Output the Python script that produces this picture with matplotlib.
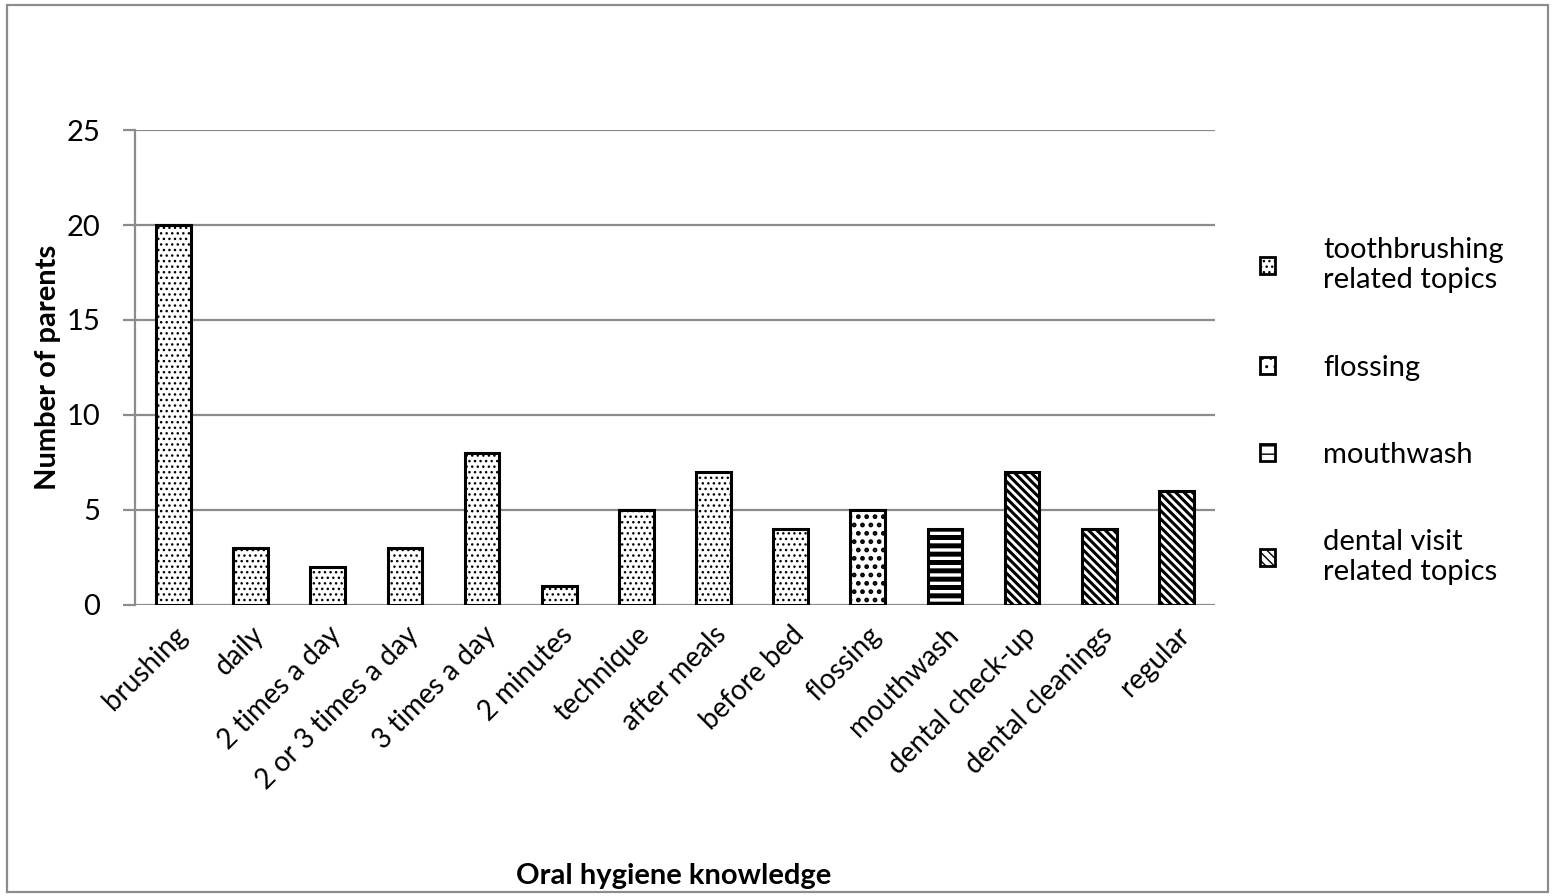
import numpy as np
import matplotlib
matplotlib.use("Agg")
import matplotlib.pyplot as plt
from matplotlib.patches import Rectangle, Patch

plt.rcParams["font.family"] = ["Lato", "DejaVu Sans"]

# Oral hygiene topics mentioned by parents
topics = ["brushing", "daily", "2 times a day", "2 or 3 times a day",
          "3 times a day", "2 minutes", "technique", "after meals",
          "before bed", "flossing", "mouthwash", "dental check-up",
          "dental cleanings", "regular"]
counts = [20, 3, 2, 3, 8, 1, 5, 7, 4, 5, 4, 7, 4, 6]
groups = ["tooth"] * 9 + ["floss", "mouth", "dental", "dental", "dental"]

group_labels = {
    "tooth": "toothbrushing\nrelated topics",
    "floss": "flossing",
    "mouth": "mouthwash",
    "dental": "dental visit\nrelated topics",
}
# hatch pattern, hatch line width per group
group_style = {
    "tooth": ("...", 1.0),
    "floss": ("..", 2.2),
    "mouth": ("--", 3.6),
    "dental": ("\\\\\\\\", 2.2),
}

grid_col = "#8c8c8c"

fig = plt.figure(figsize=(15.53, 8.96), dpi=100)
ax = fig.add_axes([0.0869, 0.3248, 0.6954, 0.5301])

x = np.arange(len(topics))
for xi, val, g in zip(x, counts, groups):
    hatch, hlw = group_style[g]
    with plt.rc_context({"hatch.linewidth": hlw}):
        b = ax.bar(xi, val, width=0.45, color="white", edgecolor="black",
                   linewidth=2.2, hatch=hatch, zorder=3)
    for p in b:
        if hasattr(p, "set_hatch_linewidth"):
            p.set_hatch_linewidth(hlw)

ax.set_xlim(-0.5, len(topics) - 0.5)
ax.set_ylim(0, 25)
ax.set_yticks(np.arange(0, 26, 5))
ax.yaxis.grid(True, color=grid_col, linewidth=1.6, zorder=0)
ax.set_axisbelow(True)
for side in ["top", "right", "bottom"]:
    ax.spines[side].set_visible(False)
ax.spines["left"].set_color(grid_col)
ax.spines["left"].set_linewidth(1.6)
ax.tick_params(axis="y", length=9, width=1.6, color=grid_col,
               labelsize=21, pad=16)
ax.tick_params(axis="x", length=0, labelsize=20, pad=12)
ax.set_xticks(x)
ax.set_xticklabels(topics, rotation=45, ha="right", rotation_mode="anchor")
ax.set_ylabel("Number of parents", fontsize=21, fontweight="bold", labelpad=4)
fig.text(0.4335, 0.008, "Oral hygiene knowledge", fontsize=21,
         fontweight="bold", ha="center", va="bottom")

# legend, one entry per topic group
handles = []
for g in ["tooth", "floss", "mouth", "dental"]:
    hatch, hlw = group_style[g]
    with plt.rc_context({"hatch.linewidth": hlw}):
        h = Patch(facecolor="white", edgecolor="black", linewidth=2,
                  hatch=hatch, label=group_labels[g])
    if hasattr(h, "set_hatch_linewidth"):
        h.set_hatch_linewidth(hlw)
    handles.append(h)
leg = fig.legend(handles=handles, loc="center left",
                 bbox_to_anchor=(0.7946, 0.541), frameon=False, fontsize=21,
                 handlelength=0.5, handleheight=0.5, handletextpad=1.65,
                 labelspacing=2.1)

# outer chart border
fig.add_artist(Rectangle((0.0045, 0.004), 0.9925, 0.9905,
                         transform=fig.transFigure, fill=False,
                         edgecolor=grid_col, linewidth=1.6))

fig.savefig("out.png", dpi=100)
